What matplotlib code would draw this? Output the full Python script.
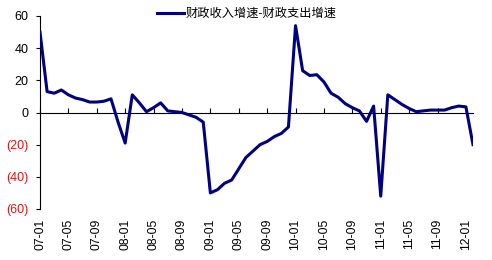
import matplotlib
matplotlib.use("Agg")
import matplotlib.pyplot as plt
import pandas as pd

plt.rcParams["font.family"] = ["Liberation Sans", "Noto Sans CJK SC"]

# 数据: 2007-01 ~ 2012-02 月度
months = pd.date_range("2007-01-01", periods=62, freq="MS").strftime("%y-%m").tolist()
gap = [50, 13, 12, 14, 11, 9, 8, 6.5, 6.5, 7, 8.5, -6, -19,
       11, 6, 0.5, 3, 6, 1, 0.5, 0, -1.5, -3, -6,
       -50, -48, -44, -42, -35, -28, -24, -20, -18, -15, -13, -9,
       54, 26, 23, 23.5, 19, 12, 9.5, 5.5, 3, 1, -5.5, 4,
       -52, 11, 8, 5, 2.5, 0.5, 1, 1.5, 1.5, 1.5, 3, 4,
       3.5, -20]
series_name = "财政收入增速-财政支出增速"
y_ticks = [-60, -40, -20, 0, 20, 40, 60]

fig = plt.figure(figsize=(4.92, 2.60), dpi=100)
ax = fig.add_axes([40 / 492, 1 - 209 / 260, 433 / 492, 193 / 260])

x = list(range(len(months)))
ax.plot(x, gap, color="#000080", lw=2.2, label=series_name, zorder=3)

ax.set_xlim(0, len(months) - 1)
ax.set_ylim(-60, 60)

# 横轴放在 0 的位置, 刻度向上
ax.spines["top"].set_visible(False)
ax.spines["right"].set_visible(False)
ax.spines["bottom"].set_position(("data", 0))
ax.spines["bottom"].set_linewidth(0.8)
ax.spines["left"].set_linewidth(0.8)
tick_pos = x[::4]
ax.set_xticks(tick_pos)
ax.tick_params(axis="x", direction="in", length=3.6, width=0.8, labelbottom=False)

# 标签放在图底部
sec = ax.secondary_xaxis("bottom")
sec.spines["bottom"].set_visible(False)
sec.set_xticks(tick_pos)
sec.set_xticklabels([months[i] for i in tick_pos], rotation=90, fontsize=8.8)
sec.tick_params(axis="x", length=0, pad=7)

# 纵轴: 负数用括号, 红色
ax.set_yticks(y_ticks)
ax.set_yticklabels([f"({abs(v)})" if v < 0 else str(v) for v in y_ticks], fontsize=9)
for lbl, v in zip(ax.get_yticklabels(), y_ticks):
    if v < 0:
        lbl.set_color("#CC1A1A")
ax.tick_params(axis="y", direction="out", length=3, width=0.8, pad=5.5)

fig.legend(loc="center left", bbox_to_anchor=(157 / 492, 1 - 14 / 260),
           frameon=False, fontsize=8.8, handlelength=2.2, handletextpad=0.15,
           borderpad=0, borderaxespad=0)

plt.savefig("out.png", dpi=100)
